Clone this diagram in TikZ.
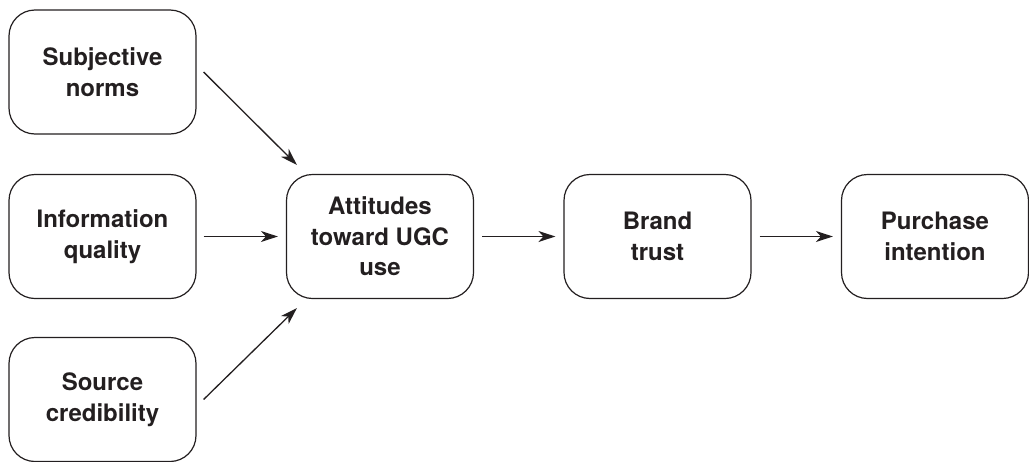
\documentclass[tikz,border=0pt]{standalone}
\usepackage{fontspec}
\setmainfont{TeX Gyre Heros}
\usetikzlibrary{arrows.meta}
\definecolor{ink}{HTML}{231F20}
\begin{document}
\begin{tikzpicture}[x=1pt,y=-1pt,
  box/.style={draw=ink, line width=1.2pt, rectangle, rounded corners=26pt,
    minimum width=187pt, minimum height=124pt, align=center, text=ink,
    font=\fontsize{24}{30.5}\selectfont\bfseries, inner sep=0pt},
  arr/.style={draw=ink, line width=1.3pt, -{Stealth[length=17pt,width=11pt,inset=5pt]}}]
\useasboundingbox (0,0) rectangle (1029,461);
\node[box] (sn) at (102.5,72) {Subjective\\norms};
\node[box] (iq) at (102.5,236.5) {Information\\quality};
\node[box] (sc) at (102.5,399.5) {Source\\credibility};
\node[box] (att) at (380,236.5) {Attitudes\\toward UGC\\use};
\node[box] (bt) at (657.5,236.5) {Brand\\trust};
\node[box] (pi) at (935,236.5) {Purchase\\intention};
\draw[arr] ([xshift=7pt]sn.east) -- ([xshift=11pt,yshift=9pt]att.north west);
\draw[arr] ([xshift=7pt]sc.east) -- ([xshift=11pt,yshift=-9pt]att.south west);
\draw[arr, shorten <=7pt, shorten >=8pt] (iq.east) -- (att.west);
\draw[arr, shorten <=8pt, shorten >=8pt] (att.east) -- (bt.west);
\draw[arr, shorten <=8pt, shorten >=8pt] (bt.east) -- (pi.west);
\end{tikzpicture}
\end{document}
